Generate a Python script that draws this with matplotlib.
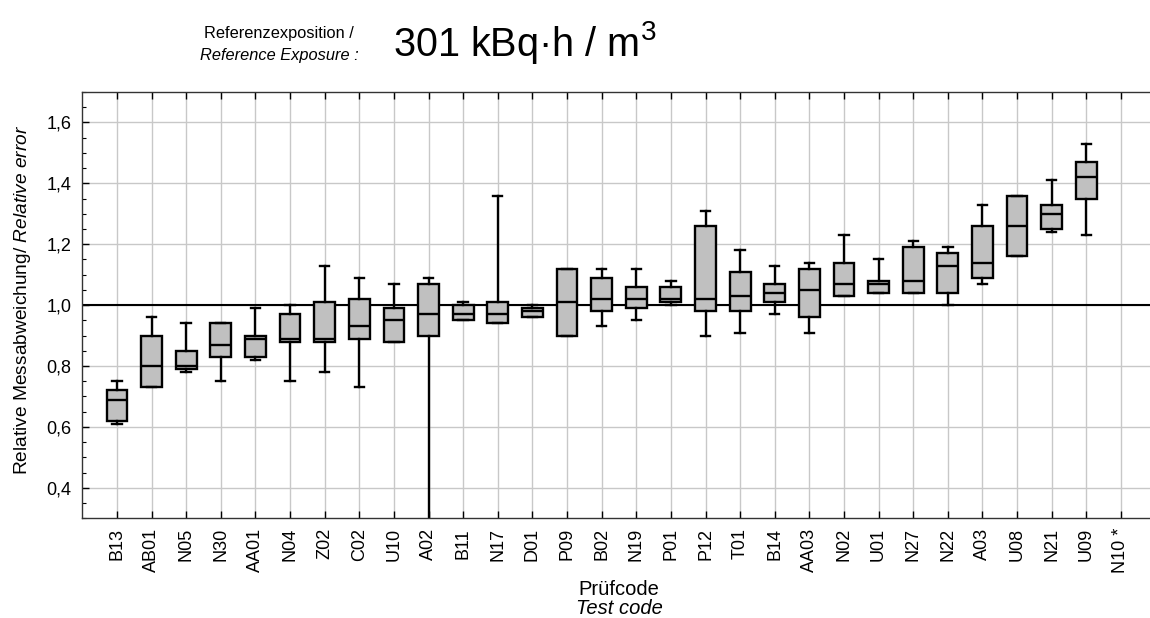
import matplotlib
matplotlib.use("Agg")
import matplotlib.pyplot as plt
from matplotlib.ticker import FixedLocator, MultipleLocator

plt.rcParams['font.family'] = ['Liberation Sans', 'DejaVu Sans']
plt.rcParams['mathtext.fontset'] = 'custom'
plt.rcParams['mathtext.rm'] = 'Liberation Sans'
plt.rcParams['mathtext.it'] = 'Liberation Sans:italic'

codes = ["B13", "AB01", "N05", "N30", "AA01", "N04", "Z02", "C02", "U10", "A02",
         "B11", "N17", "D01", "P09", "B02", "N19", "P01", "P12", "T01", "B14",
         "AA03", "N02", "U01", "N27", "N22", "A03", "U08", "N21", "U09", "N10 *"]

whisker_low = [0.61, 0.73, 0.78, 0.75, 0.82, 0.75, 0.78, 0.73, 0.88, 0.20,
               0.95, 0.94, 0.96, 0.90, 0.93, 0.95, 1.00, 0.90, 0.91, 0.97,
               0.91, 1.03, 1.04, 1.04, 1.00, 1.07, 1.16, 1.24, 1.23]
q1 = [0.62, 0.73, 0.79, 0.83, 0.83, 0.88, 0.88, 0.89, 0.88, 0.90,
      0.95, 0.94, 0.96, 0.90, 0.98, 0.99, 1.01, 0.98, 0.98, 1.01,
      0.96, 1.03, 1.04, 1.04, 1.04, 1.09, 1.16, 1.25, 1.35]
median = [0.69, 0.80, 0.80, 0.87, 0.89, 0.89, 0.89, 0.93, 0.95, 0.97,
          0.97, 0.97, 0.98, 1.01, 1.02, 1.02, 1.02, 1.02, 1.03, 1.04,
          1.05, 1.07, 1.07, 1.08, 1.13, 1.14, 1.26, 1.30, 1.42]
q3 = [0.72, 0.90, 0.85, 0.94, 0.90, 0.97, 1.01, 1.02, 0.99, 1.07,
      1.00, 1.01, 0.99, 1.12, 1.09, 1.06, 1.06, 1.26, 1.11, 1.07,
      1.12, 1.14, 1.08, 1.19, 1.17, 1.26, 1.36, 1.33, 1.47]
whisker_high = [0.75, 0.96, 0.94, 0.94, 0.99, 1.00, 1.13, 1.09, 1.07, 1.09,
                1.01, 1.36, 1.00, 1.12, 1.12, 1.12, 1.08, 1.31, 1.18, 1.13,
                1.14, 1.23, 1.15, 1.21, 1.19, 1.33, 1.36, 1.41, 1.53]

ytick_values = [0.4, 0.6, 0.8, 1.0, 1.2, 1.4, 1.6]
ytick_labels = ["0,4", "0,6", "0,8", "1,0", "1,2", "1,4", "1,6"]
reference_value = 1.0

W, H = 1150, 618
fig = plt.figure(figsize=(W / 100, H / 100), dpi=100)
left_px, right_px, top_px, bottom_px = 82.3, 1155.6, 92.0, 518.3
ax = fig.add_axes([left_px / W, 1 - bottom_px / H, (right_px - left_px) / W, (bottom_px - top_px) / H])

stats = []
for i in range(len(median)):
    stats.append(dict(med=median[i], q1=q1[i], q3=q3[i],
                      whislo=whisker_low[i], whishi=whisker_high[i], fliers=[]))

positions = list(range(1, len(codes) + 1))
lw = 1.7
ax.bxp(stats, positions=positions[:len(stats)], widths=0.6, capwidths=0.27,
       patch_artist=True, showfliers=False,
       boxprops=dict(facecolor='#c0c0c0', edgecolor='black', linewidth=lw),
       medianprops=dict(color='black', linewidth=lw),
       whiskerprops=dict(color='black', linewidth=lw),
       capprops=dict(color='black', linewidth=lw))

ax.axhline(reference_value, color='black', linewidth=1.5, zorder=1.8)

ax.set_xlim(0, len(codes) + 1)
ax.set_ylim(0.3, 1.7)
ax.set_xticks(positions)
ax.set_xticklabels(codes, rotation=90, fontsize=13)
ax.yaxis.set_major_locator(FixedLocator(ytick_values))
ax.set_yticklabels(ytick_labels, fontsize=13)
ax.yaxis.set_minor_locator(MultipleLocator(0.05))

ax.set_axisbelow(True)
ax.grid(True, which='major', color='#c8c8c8', linewidth=1.0)
ax.tick_params(axis='x', which='major', direction='in', top=True, bottom=True,
               length=5, width=1, pad=7)
ax.tick_params(axis='y', which='major', direction='in', left=True, right=False,
               length=5, width=1, pad=8)
ax.tick_params(axis='y', which='minor', direction='in', left=True, right=False,
               length=3, width=0.8)
for s in ax.spines.values():
    s.set_linewidth(1.0)
    s.set_color('#333333')

fig.text(279 / W, 1 - 38 / H, "Referenzexposition /", ha='center', va='baseline', fontsize=11.75)
fig.text(279 / W, 1 - 60 / H, "Reference Exposure :", ha='center', va='baseline',
         fontsize=11.75, style='italic')
fig.text(393 / W, 1 - 56 / H, r"301 kBq·h / m$^{3}$", ha='left', va='baseline', fontsize=28.5)

fig.text(619 / W, 1 - 595 / H, "Prüfcode", ha='center', va='baseline', fontsize=14.5)
fig.text(619 / W, 1 - 614 / H, "Test code", ha='center', va='baseline', fontsize=14.5,
         style='italic')

fig.text(23 / W, 1 - 300 / H, r"Relative Messabweichung/ $\mathit{Relative\ error}$",
         rotation=90, ha='center', va='center', fontsize=13.8)

fig.savefig("out.png", dpi=100)
